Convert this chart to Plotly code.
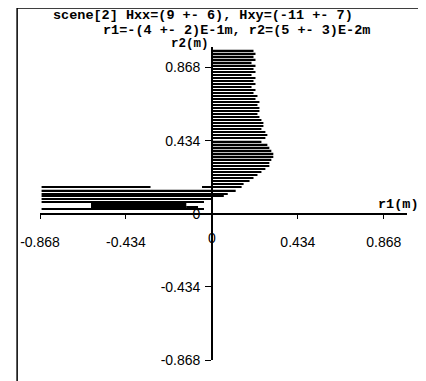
import plotly.graph_objects as go

# ---- data ----
r2_upper = [0.970, 0.952, 0.934, 0.916, 0.898, 0.880, 0.862, 0.844, 0.826, 0.808,
            0.790, 0.772, 0.754, 0.736, 0.718, 0.700, 0.682, 0.664, 0.646, 0.628,
            0.610, 0.592, 0.574, 0.556, 0.538, 0.520, 0.502, 0.484, 0.466, 0.448,
            0.430, 0.412, 0.394, 0.376, 0.358, 0.340, 0.322, 0.304, 0.286, 0.268,
            0.250, 0.232, 0.214, 0.196, 0.178]
r1_upper_end = [0.21, 0.22, 0.21, 0.22, 0.20, 0.22, 0.21, 0.22, 0.20, 0.22,
                0.21, 0.22, 0.20, 0.22, 0.21, 0.23, 0.22, 0.24, 0.23, 0.24,
                0.24, 0.23, 0.24, 0.25, 0.26, 0.26, 0.25, 0.27, 0.28, 0.27,
                0.25, 0.28, 0.29, 0.30, 0.31, 0.31, 0.30, 0.29, 0.29, 0.27,
                0.25, 0.23, 0.21, 0.19, 0.16]

r2_lower = [0.160, 0.157, 0.138, 0.120, 0.104, 0.090, 0.068,
            0.064, 0.058, 0.052, 0.046, 0.040, 0.034, 0.028,
            0.042, 0.027]
r1_lower_start = [-0.05, -0.86, -0.86, -0.86, -0.86, -0.86, -0.86,
                  -0.61, -0.61, -0.61, -0.61, -0.61, -0.61, -0.61,
                  -0.13, -0.86]
r1_lower_end = [0.15, -0.31, 0.12, 0.08, 0.06, 0.00, -0.04,
                -0.13, -0.13, -0.13, -0.13, -0.13, -0.13, -0.13,
                -0.07, -0.04]

tick_vals = [-0.868, -0.434, 0, 0.434, 0.868]
tick_text = ["-0.868", "-0.434", "0", "0.434", "0.868"]

title_line1 = "scene[2] Hxx=(9 +- 6), Hxy=(-11 +- 7)"
title_line2 = "r1=-(4 +- 2)E-1m, r2=(5 +- 3)E-2m"

# ---- figure ----
OFF = 8  # page body margin
W, H = 426 - OFF, 381 - OFF
ML, MR, MT, MB = 38 - OFF, 19, 47 - OFF, 21
xr = [-0.868, 0.985]
yr = [-0.868, 0.99]
pw, ph = W - ML - MR, H - MT - MB


def px_x(p):
    return (p - OFF - ML) / pw


def px_y(p):
    return (H - MB - (p - OFF)) / ph


fig = go.Figure()
fig.add_trace(go.Bar(
    orientation="h", y=r2_upper, base=[0] * len(r2_upper), x=r1_upper_end,
    width=0.008, marker=dict(color="black", line=dict(width=0)), showlegend=False))
fig.add_trace(go.Bar(
    orientation="h", y=r2_lower, base=r1_lower_start,
    x=[e - s for s, e in zip(r1_lower_start, r1_lower_end)],
    width=0.008, marker=dict(color="black", line=dict(width=0)), showlegend=False))

tickfont = dict(family="Liberation Sans", size=14, color="black")
x_tick_text = [t if v != 0 else "" for v, t in zip(tick_vals, tick_text)]
fig.update_layout(
    width=W, height=H, margin=dict(l=ML, r=MR, t=MT, b=MB),
    paper_bgcolor="white", plot_bgcolor="white", barmode="overlay",
    xaxis=dict(range=xr, domain=[0, 1], anchor="free",
               position=(0 - yr[0]) / (yr[1] - yr[0]),
               tickvals=tick_vals, ticktext=x_tick_text, ticks="outside", ticklen=4,
               tickcolor="black", tickwidth=1.2, showline=True, linecolor="black",
               linewidth=1.5, showgrid=False, zeroline=False, tickfont=tickfont,
               ticklabelstandoff=12),
    yaxis=dict(range=yr, domain=[0, 1], anchor="free",
               position=(0 - xr[0]) / (xr[1] - xr[0]),
               tickvals=tick_vals, ticktext=tick_text, ticks="outside", ticklen=6,
               tickcolor="black", tickwidth=1.2, showline=True, linecolor="black",
               linewidth=1.5, showgrid=False, zeroline=False, tickfont=tickfont,
               ticklabelstandoff=2),
)

# x-axis "0" label (drawn under the crossing point)
fig.add_annotation(text=tick_text[2], xref="x", yref="paper", x=tick_vals[2], y=px_y(238),
                   xanchor="center", yanchor="middle", showarrow=False, font=tickfont,
                   bgcolor="rgba(0,0,0,0)")

monofont = dict(family="Liberation Mono", size=13.5, color="black", weight="bold")
fig.add_annotation(text=title_line1, xref="paper", yref="paper", x=px_x(49), y=px_y(16),
                   xanchor="left", yanchor="middle", showarrow=False, font=monofont)
fig.add_annotation(text=title_line2, xref="paper", yref="paper", x=px_x(99), y=px_y(30),
                   xanchor="left", yanchor="middle", showarrow=False, font=monofont)
fig.add_annotation(text="r2(m)", xref="paper", yref="paper", x=px_x(210), y=px_y(44),
                   xanchor="right", yanchor="middle", showarrow=False,
                   font=dict(family="Liberation Mono", size=12.5, color="black", weight="bold"))
fig.add_annotation(text="r1(m)", xref="paper", yref="paper", x=px_x(421), y=px_y(204),
                   xanchor="right", yanchor="middle", showarrow=False, font=monofont)

# outer frame (left and top edges visible)
fig.add_shape(type="rect", xref="paper", yref="paper",
              x0=px_x(15), x1=px_x(440), y0=px_y(395), y1=px_y(8),
              line=dict(color="black", width=1.5), layer="above")

fig.write_html("out.html")
